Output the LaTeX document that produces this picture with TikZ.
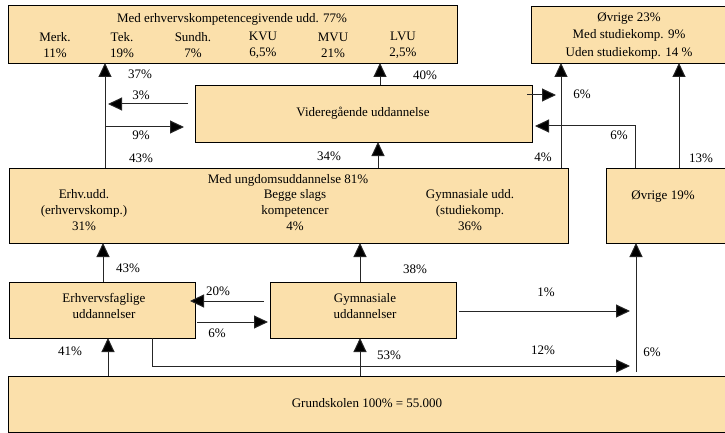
\documentclass[tikz,border=0pt]{standalone}
\usepackage{fontspec}
\setmainfont{Liberation Serif}
\usetikzlibrary{arrows.meta,calc}
\definecolor{boxfill}{RGB}{251,224,171}
\begin{document}
\begin{tikzpicture}[x=1pt,y=-1pt, font=\fontsize{13}{16}\selectfont,
  box/.style={draw=black, line width=0.9pt, fill=boxfill, inner sep=0pt, outer sep=0pt, rectangle},
  lbl/.style={anchor=base, yshift=-4.4pt, inner sep=0pt},
  txt/.style={align=center, inner sep=0pt},
  arr/.style={draw=black!85, line width=1pt, -{Triangle[length=14pt,width=13pt,fill=black]}},
  ln/.style={draw=black!85, line width=1pt}]
\useasboundingbox (0,0) rectangle (725,433);

% boxes
\node[box, minimum width=449pt, minimum height=58pt] (top) at (232.5,34) {};
\node[box, minimum width=197pt, minimum height=57pt] (topR) at (629.5,34.5) {};
\node[box, minimum width=337pt, minimum height=57pt] (vid) at (363.5,113.5) {};
\node[box, minimum width=559pt, minimum height=75pt] (ung) at (288.5,205.5) {};
\node[box, minimum width=122pt, minimum height=75pt] (ovr) at (667,205.5) {};
\node[box, minimum width=186pt, minimum height=56pt] (erh) at (102,310) {};
\node[box, minimum width=186pt, minimum height=56pt] (gym) at (363,310) {};
\node[box, minimum width=720pt, minimum height=56pt] (grund) at (368,404) {};

% texts in boxes
\node[lbl] (t0) at (232,18) {Med erhvervskompetencegivende udd. 77\%};
\node[txt] (t1) at (55,45) {Merk.\\11\%};
\node[txt] (t2) at (122,45) {Tek.\\19\%};
\node[txt] (t3) at (193,45) {Sundh.\\7\%};
\node[txt] (t4) at (263,45) {KVU\\6,5\%};
\node[txt] (t5) at (333,45) {MVU\\21\%};
\node[txt] (t6) at (403,45) {LVU\\2,5\%};
\node[txt, font=\fontsize{13}{17.5}\selectfont] (r1) at (629,35.5) {Øvrige 23\%\\Med studiekomp. 9\%\\Uden studiekomp. 14 \%};
\node[lbl] (v1) at (363,112) {Videregående uddannelse};
\node[lbl] (u0) at (288,179) {Med ungdomsuddannelse 81\%};
\node[txt] (u1) at (84,210) {Erhv.udd.\\(erhvervskomp.)\\31\%};
\node[txt] (u2) at (295,210) {Begge slags\\kompetencer\\4\%};
\node[txt] (u3) at (470,210) {Gymnasiale udd.\\(studiekomp.\\36\%};
\node[lbl] (o1) at (663,195) {Øvrige 19\%};
\node[txt] (e1) at (104,306) {Erhvervsfaglige\\uddannelser};
\node[txt] (g1) at (365,306) {Gymnasiale\\uddannelser};
\node[lbl] (gr1) at (367,403) {Grundskolen 100\% = 55.000};

% helper coordinates
\coordinate (xa) at (105,0);
\coordinate (xb) at (378,0);
\coordinate (xc) at (380,0);
\coordinate (xd) at (561,0);
\coordinate (xe) at (635,0);
\coordinate (xf) at (679,0);
\coordinate (xg) at (103,0);
\coordinate (xh) at (360,0);
\coordinate (xi) at (108,0);
\coordinate (xj) at (152,0);
\coordinate (xk) at (636,0);
\coordinate (y3) at (0,104);
\coordinate (y9) at (0,127);
\coordinate (y6a) at (0,95);
\coordinate (y6b) at (0,126);
\coordinate (y20) at (0,301);
\coordinate (y6c) at (0,322);
\coordinate (y1) at (0,311);
\coordinate (y12) at (0,366);
\coordinate (ybot) at (0,372);

% connectors
\draw[arr] (ung.north -| xa) -- (top.south -| xa);
\draw[arr] ([xshift=-7pt]vid.west |- y3) -- ([xshift=3pt]xa |- y3);
\draw[arr] (xa |- y9) -- ([xshift=-11pt]vid.west |- y9);
\draw[arr] (ung.north -| xb) -- (vid.south -| xb);
\draw[arr] (vid.north -| xc) -- (top.south -| xc);
\draw[arr] ([xshift=-5pt]vid.east |- y6a) -- ([xshift=-5pt]xd |- y6a);
\draw[arr] (ung.north -| xd) -- (topR.south -| xd);
\draw[arr] (ovr.north -| xe) -- (xe |- y6b) -- ([xshift=3pt]vid.east |- y6b);
\draw[arr] (ovr.north -| xf) -- (topR.south -| xf);
\draw[arr] (erh.north -| xg) -- (ung.south -| xg);
\draw[arr] (gym.north -| xh) -- (ung.south -| xh);
\draw[arr] ([xshift=-6pt]gym.west |- y20) -- ([xshift=-5pt]erh.east |- y20);
\draw[arr] ([xshift=2pt]erh.east |- y6c) -- ([xshift=-2pt]gym.west |- y6c);
\draw[arr] ([xshift=3pt]gym.east |- y1) -- ([xshift=-6pt]xk |- y1);
\draw[arr] (grund.north -| xi) -- (erh.south -| xi);
\draw[arr] (grund.north -| xh) -- (gym.south -| xh);
\draw[arr] (erh.south -| xj) -- (xj |- y12) -- ([xshift=-6pt]xk |- y12);
\draw[arr] (xk |- ybot) -- (ovr.south -| xk);

% labels
\node[lbl] (l37) at (140,74) {37\%};
\node[lbl] (l40) at (425,75) {40\%};
\node[lbl] (l3) at (141,95) {3\%};
\node[lbl] (l9) at (141,135) {9\%};
\node[lbl] (l43a) at (141,158) {43\%};
\node[lbl] (l34) at (329,156) {34\%};
\node[lbl] (l6a) at (582,94) {6\%};
\node[lbl] (l6b) at (619,135) {6\%};
\node[lbl] (l4) at (543,157) {4\%};
\node[lbl] (l13) at (701,158) {13\%};
\node[lbl] (l43b) at (128,268) {43\%};
\node[lbl] (l38) at (415,269) {38\%};
\node[lbl] (l20) at (218,291) {20\%};
\node[lbl] (l6c) at (217,333) {6\%};
\node[lbl] (l1) at (546,292) {1\%};
\node[lbl] (l41) at (70,351) {41\%};
\node[lbl] (l53) at (389,355) {53\%};
\node[lbl] (l12) at (543,350) {12\%};
\node[lbl] (l6d) at (652,352) {6\%};
\end{tikzpicture}
\end{document}
